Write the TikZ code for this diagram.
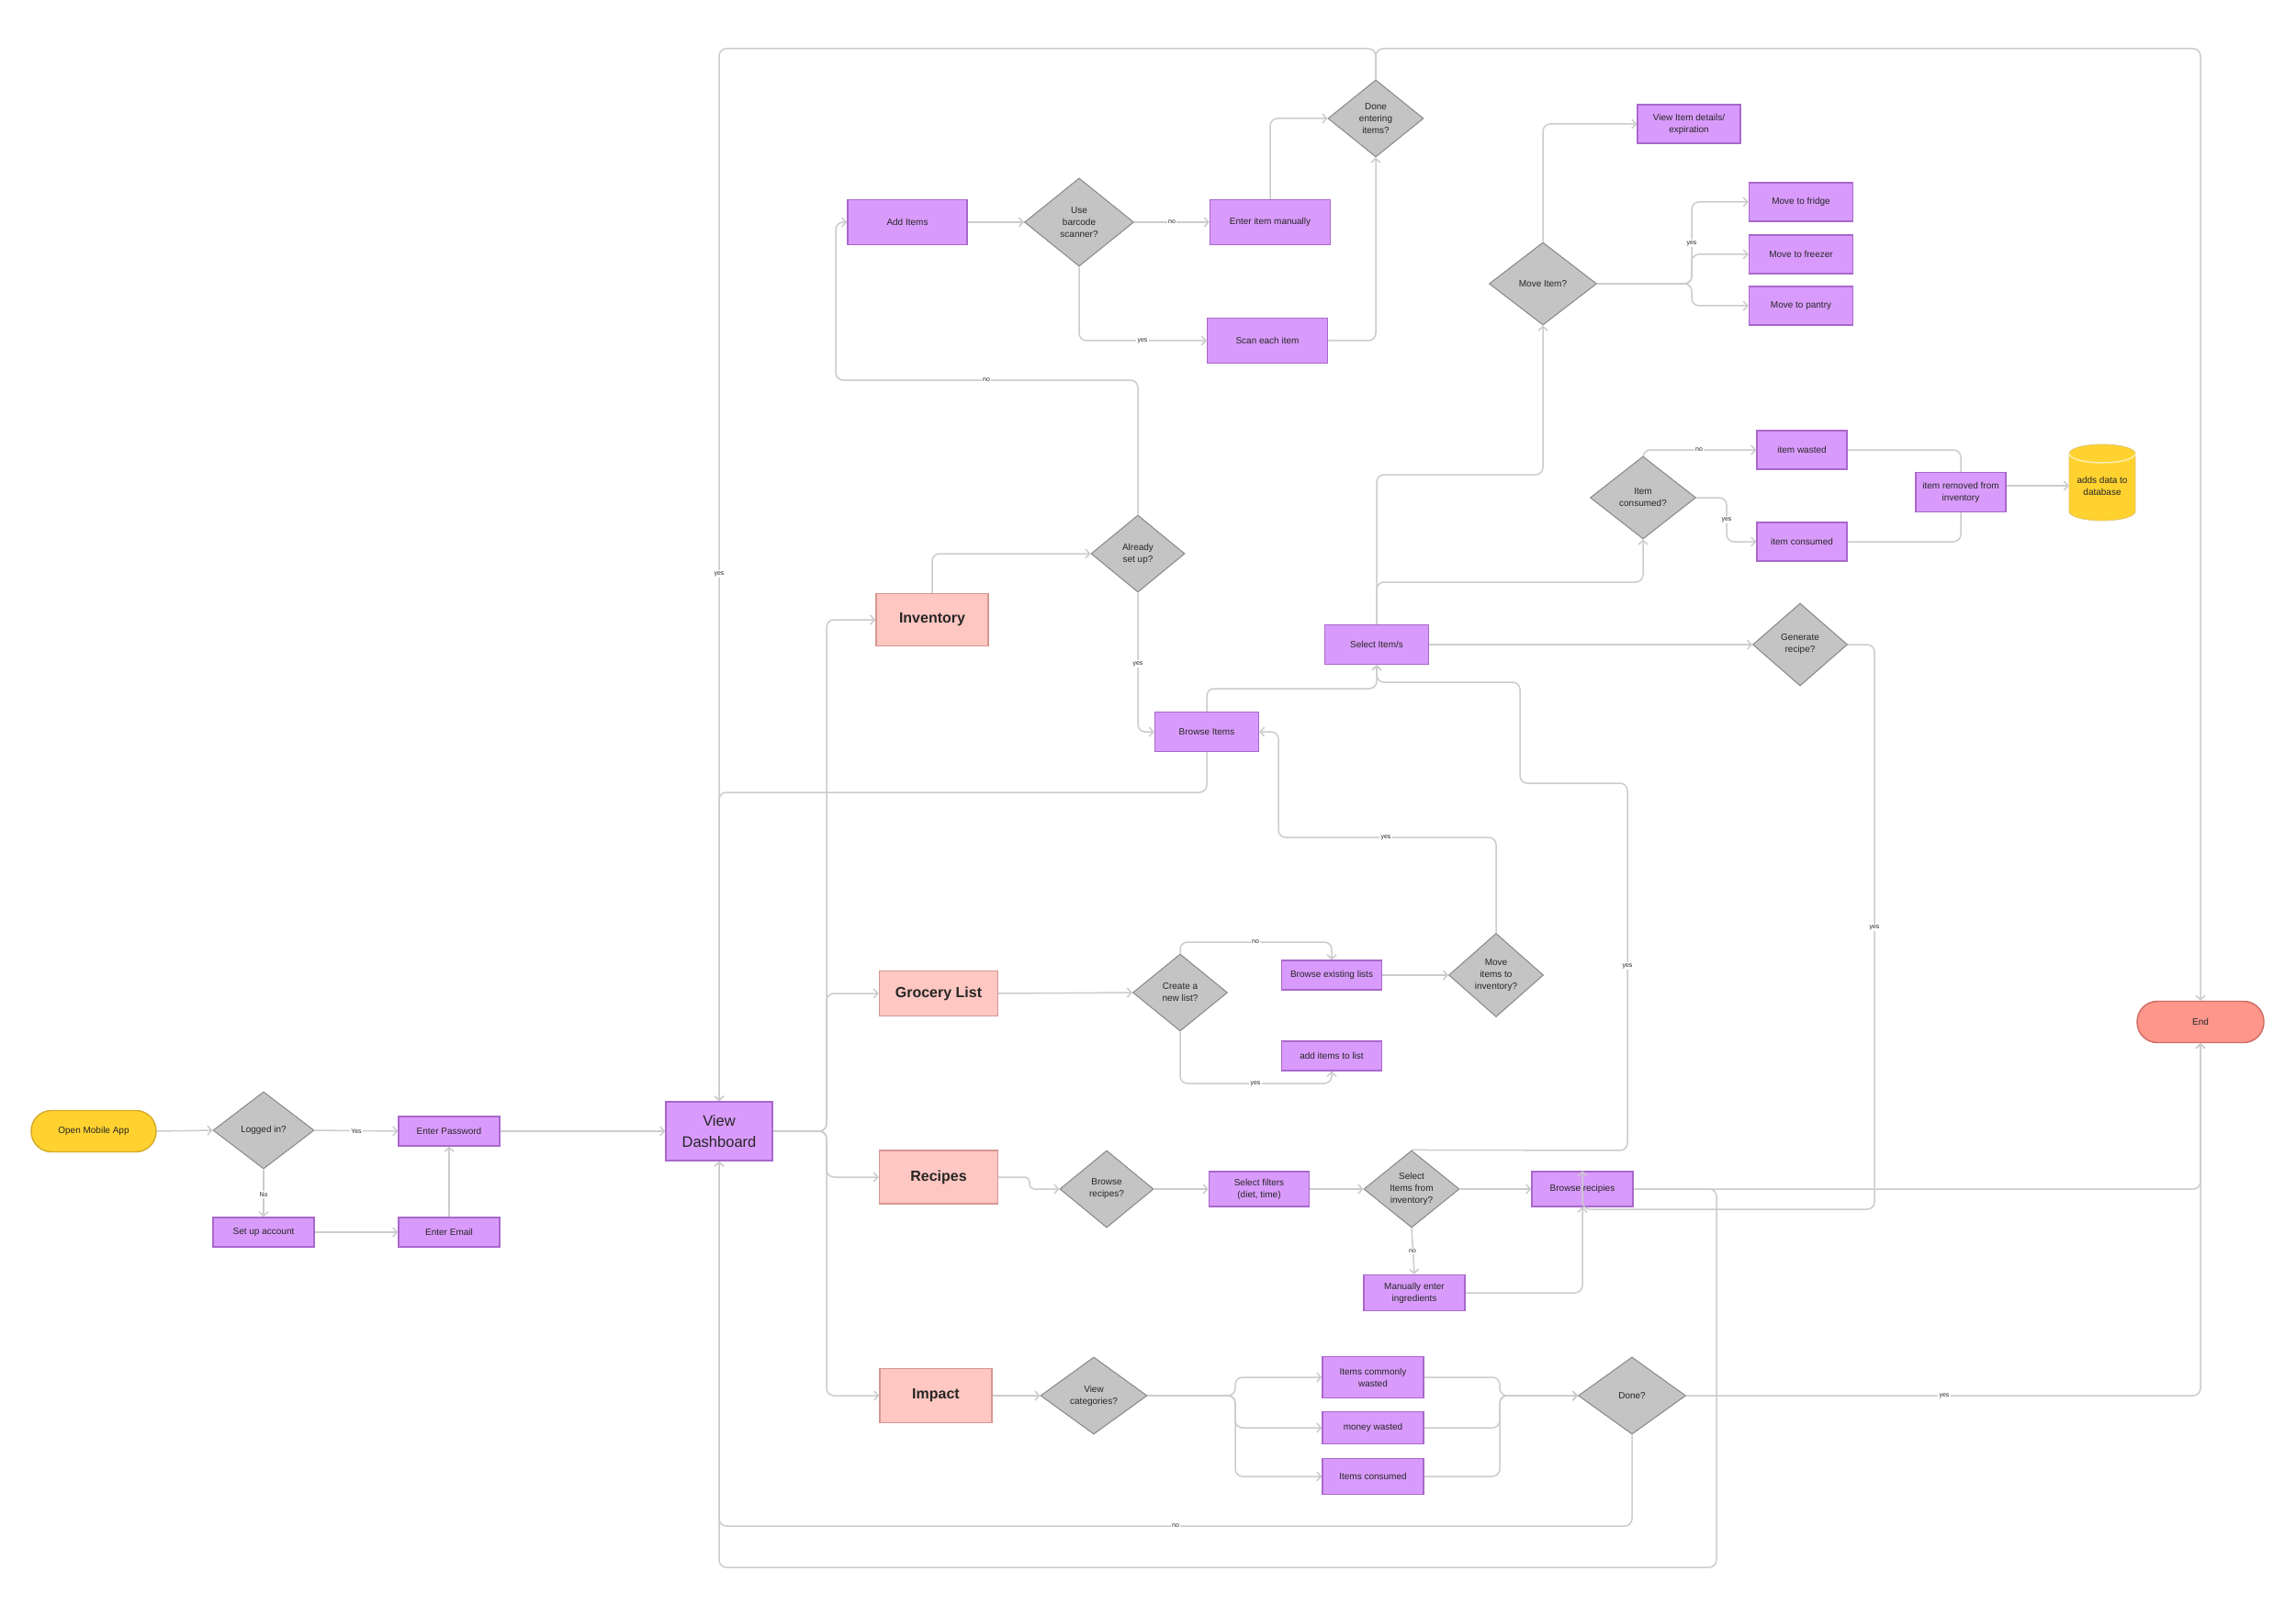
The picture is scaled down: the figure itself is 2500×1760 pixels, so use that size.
\documentclass[tikz,border=0pt]{standalone}
\usepackage{fontspec}
\setmainfont{Liberation Sans}
\usetikzlibrary{shapes.geometric,arrows.meta}
\definecolor{lineC}{RGB}{204,204,204}
\definecolor{purF}{RGB}{217,155,251}
\definecolor{purD}{RGB}{168,104,204}
\definecolor{dgF}{RGB}{196,196,196}
\definecolor{dgD}{RGB}{140,140,140}
\definecolor{pinkF}{RGB}{255,199,194}
\definecolor{pinkD}{RGB}{214,150,146}
\definecolor{yelF}{RGB}{255,210,48}
\definecolor{yelD}{RGB}{212,170,40}
\definecolor{endF}{RGB}{255,150,140}
\definecolor{endD}{RGB}{204,108,100}
\definecolor{txt}{RGB}{38,38,38}
\pgfdeclarelayer{bg}
\pgfsetlayers{bg,main}
\begin{document}
\begin{tikzpicture}[x=1pt,y=-1pt,
  sz/.style 2 args={minimum width=#1pt,minimum height=#2pt},
  proc/.style={rectangle,draw=purD,fill=purF,line width=1.4pt,inner sep=0pt,align=center,text=txt,font=\fontsize{10}{13}\selectfont},
  dec/.style={diamond,draw=dgD,fill=dgF,line width=1.1pt,inner sep=0pt,align=center,text=txt,font=\fontsize{10}{13}\selectfont},
  cat/.style={rectangle,draw=pinkD,fill=pinkF,line width=1.4pt,inner sep=0pt,text=txt,font=\fontsize{16}{19}\selectfont\bfseries},
  term/.style={rectangle,rounded corners=22pt,line width=1.4pt,inner sep=0pt,text=txt,font=\fontsize{10}{13}\selectfont},
  conn/.style={draw=lineC,line width=1.5pt,rounded corners=8pt,-{Straight Barb[length=4.5pt,width=10pt]}},
  plain/.style={draw=lineC,line width=1.5pt,rounded corners=8pt},
  lab/.style={fill=white,inner sep=1.5pt,text=txt,font=\fontsize{7}{8}\selectfont}]

\begin{pgfonlayer}{bg}
\fill[white] (0,0) rectangle (2500,1760);
\end{pgfonlayer}
\useasboundingbox (0,0) rectangle (2500,1760);

% ---------- left part
\node[term,fill=yelF,draw=yelD,sz={136}{45}] (start) at (102,1232) {Open Mobile App};
\node[dec,sz={110}{84}] (login) at (287,1231) {Logged in?};
\node[proc,sz={110}{32}] (pwd) at (489,1232) {Enter Password};
\node[proc,sz={110}{32}] (setup) at (287,1342) {Set up account};
\node[proc,sz={110}{32}] (email) at (489,1342) {Enter Email};
\node[proc,sz={116}{64},font=\fontsize{16.5}{23}\selectfont] (dash) at (783,1232) {View\\Dashboard};

% ---------- categories
\node[cat,sz={122}{57}] (inv) at (1015,675) {Inventory};
\node[cat,sz={129}{49}] (groc) at (1022,1082) {Grocery List};
\node[cat,sz={129}{58}] (rec) at (1022,1282) {Recipes};
\node[cat,sz={122}{59}] (imp) at (1019,1520) {Impact};

% ---------- inventory
\node[dec,sz={102}{84}] (setupq) at (1239,603) {Already\\set up?};
\node[proc,sz={130}{49}] (additems) at (988,242) {Add Items};
\node[dec,sz={119}{96}] (barcode) at (1175,242) {Use\\barcode\\scanner?};
\node[proc,sz={131}{49}] (manual) at (1383,242) {Enter item manually};
\node[proc,sz={131}{49}] (scan) at (1380,371) {Scan each item};
\node[dec,sz={104}{84}] (doneent) at (1498,129) {Done\\entering\\items?};
\node[proc,sz={113}{43}] (browse) at (1314,797) {Browse Items};
\node[proc,sz={113}{43}] (select) at (1499,702) {Select Item/s};
\node[dec,sz={103}{90}] (genq) at (1960,702) {Generate\\recipe?};
\node[dec,sz={115}{90}] (consq) at (1789,542) {Item\\consumed?};
\node[proc,sz={98}{42}] (wasted) at (1962,490) {item wasted};
\node[proc,sz={98}{42}] (consumed) at (1962,590) {item consumed};
\node[proc,sz={98}{43}] (removed) at (2135,536) {item removed from\\inventory};
\node[dec,sz={117}{90}] (moveq) at (1680,309) {Move Item?};
\node[proc,sz={112}{42}] (details) at (1839,135) {View Item details/\\expiration};
\node[proc,sz={113}{42}] (fridge) at (1961,220) {Move to fridge};
\node[proc,sz={113}{42}] (freezer) at (1961,277) {Move to freezer};
\node[proc,sz={113}{42}] (pantry) at (1961,333) {Move to pantry};

% database cylinder
\fill[yelF] (2253,494) -- (2253,557) arc[start angle=180,end angle=360,x radius=36pt,y radius=10pt] -- (2325,494) arc[start angle=0,end angle=180,x radius=36pt,y radius=10pt] -- cycle;
\draw[yelD!70,line width=0.8pt] (2253,494) -- (2253,557) arc[start angle=180,end angle=360,x radius=36pt,y radius=10pt] -- (2325,494) arc[start angle=0,end angle=180,x radius=36pt,y radius=10pt] -- cycle;
\draw[white!60!yelF,line width=1.5pt] (2253,494) arc[start angle=180,end angle=360,x radius=36pt,y radius=10pt];
\node[inner sep=0pt,align=center,text=txt,font=\fontsize{10}{13}\selectfont,sz={72}{83}] (db) at (2289,529) {adds data to\\database};

% ---------- grocery
\node[dec,sz={103}{84}] (newq) at (1285,1081) {Create a\\new list?};
\node[proc,sz={109}{32}] (existing) at (1450,1062) {Browse existing lists};
\node[proc,sz={109}{32}] (additem) at (1450,1150) {add items to list};
\node[dec,sz={103}{91}] (moveinv) at (1629,1062) {Move\\items to\\inventory?};

% ---------- recipes
\node[dec,sz={102}{84}] (browseq) at (1205,1295) {Browse\\recipes?};
\node[proc,sz={109}{38}] (filters) at (1371,1295) {Select filters\\(diet, time)};
\node[dec,sz={104}{84}] (selinv) at (1537,1295) {Select\\Items from\\inventory?};
\node[proc,sz={110}{38}] (brrec) at (1723,1295) {Browse recipies};
\node[proc,sz={110}{39}] (manent) at (1540,1408) {Manually enter\\ingredients};

% ---------- impact
\node[dec,sz={116}{84}] (viewcat) at (1191,1520) {View\\categories?};
\node[proc,sz={110}{45}] (common) at (1495,1500) {Items commonly\\wasted};
\node[proc,sz={110}{35}] (money) at (1495,1555) {money wasted};
\node[proc,sz={110}{39}] (itcons) at (1495,1608) {Items consumed};
\node[dec,sz={117}{84}] (doneq) at (1777,1520) {Done?};
\node[term,fill=endF,draw=endD,sz={138}{45}] (endn) at (2396,1113) {End};

\begin{pgfonlayer}{bg}
% left
\draw[conn] (start.east) -- (login.west);
\draw[conn] (login.east) -- (pwd.west);
\draw[conn] (login.south) -- (setup.north);
\draw[conn] (setup.east) -- (email.west);
\draw[conn] (email.north) -- (pwd.south);
\draw[conn] (pwd.east) -- (dash.west);
\coordinate (tr) at (900,1232);
\draw[conn] (dash.east) -- (tr) |- (inv.west);
\draw[conn] (dash.east) -- (tr) |- (groc.west);
\draw[conn] (dash.east) -- (tr) |- (rec.west);
\draw[conn] (dash.east) -- (tr) |- (imp.west);
% inventory
\draw[conn] (inv.north) |- (setupq.west);
\draw[conn] (setupq.north) -- (1239,414) -- (910,414) |- (additems.west);
\draw[conn] (setupq.south) |- (browse.west);
\draw[conn] (additems.east) -- (barcode.west);
\draw[conn] (barcode.east) -- (manual.west);
\draw[conn] (barcode.south) |- (scan.west);
\draw[conn] (manual.north) |- (doneent.west);
\draw[conn] (scan.east) -| (doneent.south);
\draw[conn] (doneent.north) |- (783,53) -- (dash.north);
\draw[conn] (doneent.north) |- (2396,53) -- (endn.north);
\draw[conn] (browse.south) |- (783,863) -- (dash.north);
\draw[conn] (browse.north) |- (1499,750) -- (select.south);
\draw[conn] (selinv.north) -- (1772,1253) -- (1772,853) -- (1655,853) -- (1655,743) -- (1499,743) -- (select.south);
\draw[conn] (select.north) -- (1499,634) -| (consq.south);
\draw[conn] (select.north) -- (1499,517) -| (moveq.south);
\draw[conn] (select.east) -- (genq.west);
\draw[conn] (moveq.north) |- (details.west);
\draw[conn] (moveq.east) -- (1842,309) |- (fridge.west);
\draw[conn] (moveq.east) -- (1842,309) |- (freezer.west);
\draw[conn] (moveq.east) -- (1842,309) |- (pantry.west);
\draw[conn] (consq.north) |- (wasted.west);
\draw[conn] (consq.east) -- (1880,542) |- (consumed.west);
\draw[plain] (wasted.east) -| (removed.north);
\draw[plain] (consumed.east) -| (removed.south);
\draw[conn] (removed.east |- db.west) -- (db.west);
% grocery
\draw[conn] (groc.east) -- (newq.west);
\draw[conn] (newq.north) -- (1285,1026) -| (existing.north);
\draw[conn] (newq.south) -- (1285,1180) -| (additem.south);
\draw[conn] (existing.east) -- (moveinv.west);
\draw[conn] (moveinv.north) -- (1629,912) -- (1392,912) |- (browse.east);
% recipes
\draw[conn,rounded corners=5pt] (rec.east) -- (1121,1282) -- (1121,1295) -- (browseq.west);
\draw[conn] (browseq.east) -- (filters.west);
\draw[conn] (filters.east) -- (selinv.west);
\draw[conn] (selinv.east) -- (brrec.west);
\draw[conn] (selinv.south) -- (manent.north);
\draw[conn] (manent.east) -| (brrec.south);
\draw[conn] (brrec.east) -- (2396,1295) -- (endn.south);
\draw[conn] (brrec.east) -- (1869,1295) -- (1869,1707) -- (783,1707) -- (dash.south);
% impact
\draw[conn] (imp.east) -- (viewcat.west);
\draw[conn] (viewcat.east) -- (1345,1520) |- (common.west);
\draw[conn] (viewcat.east) -- (1345,1520) |- (money.west);
\draw[conn] (viewcat.east) -- (1345,1520) |- (itcons.west);
\draw[conn] (common.east) -- (1633,1500) |- (doneq.west);
\draw[conn] (money.east) -- (1633,1555) |- (doneq.west);
\draw[conn] (itcons.east) -- (1633,1608) |- (doneq.west);
\draw[conn] (doneq.east) -- (2396,1520) -- (endn.south);
\draw[conn] (doneq.south) -- (1777,1662) -- (783,1662) -- (dash.south);
\end{pgfonlayer}

\draw[conn] (genq.east) -- (2041,702) -- (2041,1317) -- (1723,1317) -- (brrec.north);

% labels
\node[lab] at (388,1232) {Yes};
\node[lab] at (287,1301) {No};
\node[lab] at (1074,414) {no};
\node[lab] at (1239,723) {yes};
\node[lab] at (1276,242) {no};
\node[lab] at (1244,371) {yes};
\node[lab] at (783,625) {yes};
\node[lab] at (1842,265) {yes};
\node[lab] at (1850,490) {no};
\node[lab] at (1880,566) {yes};
\node[lab] at (2041,1010) {yes};
\node[lab] at (1367,1026) {no};
\node[lab] at (1367,1180) {yes};
\node[lab] at (1509,912) {yes};
\node[lab] at (1772,1052) {yes};
\node[lab] at (1538,1363) {no};
\node[lab] at (2117,1520) {yes};
\node[lab] at (1280,1662) {no};
\end{tikzpicture}
\end{document}
